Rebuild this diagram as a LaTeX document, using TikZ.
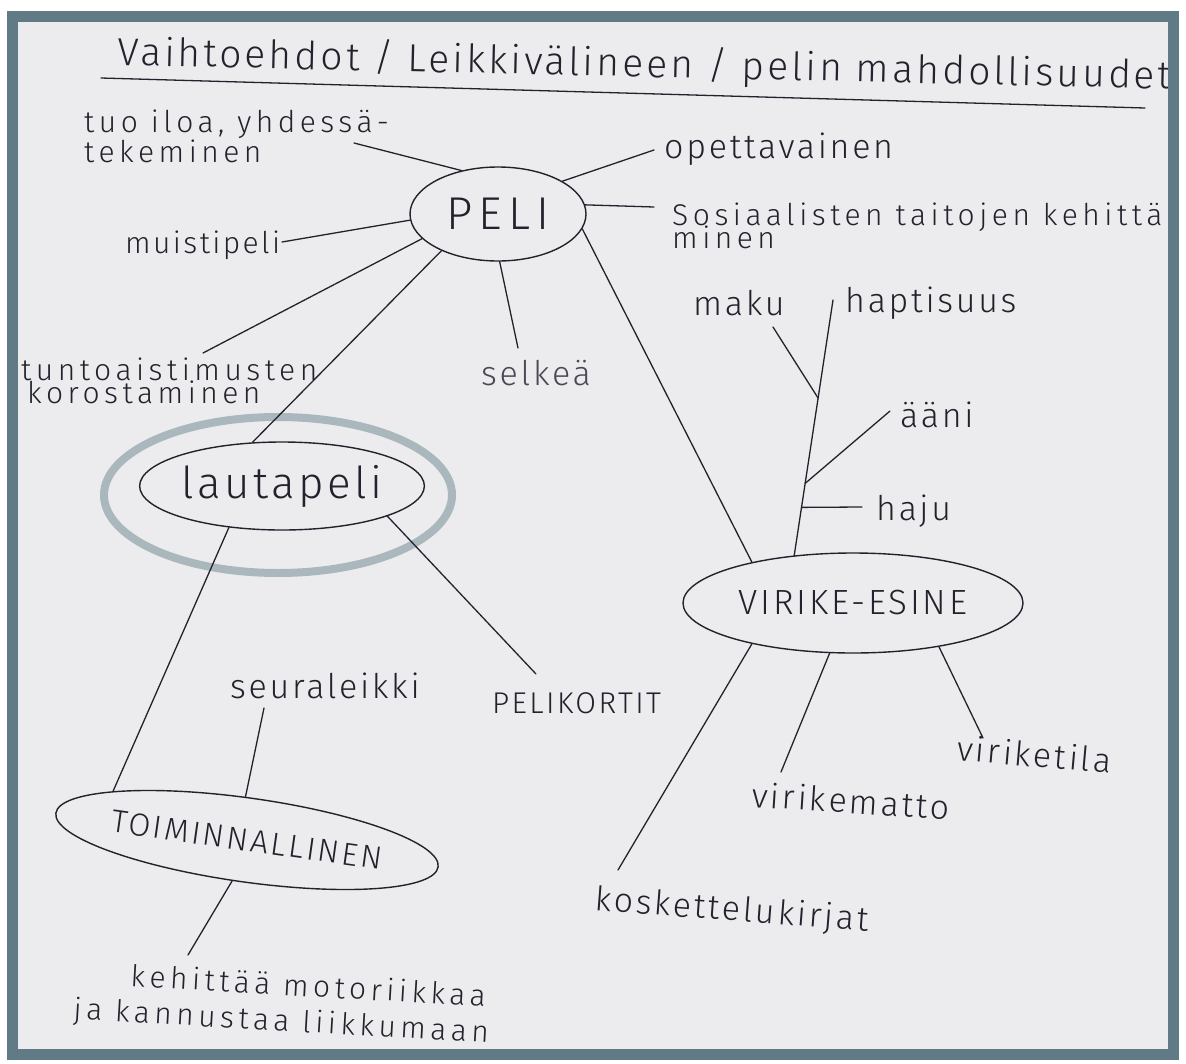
\documentclass[tikz,border=0pt]{standalone}
\usepackage{fontspec}
\newfontfamily\handfont{Fira Sans}[UprightFont=* Light, LetterSpace=8]
\usetikzlibrary{shapes.geometric,calc}
\definecolor{paper}{HTML}{ECECEF}
\definecolor{framegray}{HTML}{617B86}
\definecolor{ink}{HTML}{22222C}
\definecolor{pencil}{HTML}{4C4756}
\definecolor{highlight}{HTML}{AAB8BE}
% two handwritten lines, the node's base is the last one
\newcommand\handlines[3]{\vbox{\baselineskip=#1\lineskiplimit=-100pt\hbox{#2}\hbox{#3}}}
\tikzset{
  hand/.style={font=\handfont\fontsize{34}{34}\selectfont, text=ink, inner sep=0pt, anchor=base west},
  handtwo/.style={hand, font=\handfont\fontsize{30}{30}\selectfont\addfontfeatures{LetterSpace=15}},
  capital/.style={font=\handfont\fontsize{#1}{#1}\selectfont, text=ink, inner sep=0pt},
  oval/.style={ellipse, draw=ink, line width=1.4pt},
  link/.style={draw=ink, line width=1.3pt, line cap=round},
}
\begin{document}
\begin{tikzpicture}[x=1pt, y=-1pt]
\useasboundingbox (0,0) rectangle (1186,1063);
\fill[white] (0,0) rectangle (1186,1063);
\begin{scope}
\clip (18,22) rectangle (1168,1049);
\fill[paper] (18,22) rectangle (1168,1049);

% title
\node[hand, font=\handfont\fontsize{39}{39}\selectfont, rotate=-1.3] (title) at (117,65) {Vaihtoehdot / Leikkivälineen / pelin mahdollisuudet};
\draw[link] (101,78) -- (1145,108);

% main ovals
\draw[highlight, line width=8pt] (278,495) ellipse [x radius=174, y radius=78];
\node[oval, capital=46, minimum width=176pt, minimum height=94pt] (peli) at (498,214) {P\hspace{6pt}E\hspace{6pt}L\hspace{6pt}I};
\node[oval, capital=44, minimum width=278pt, minimum height=88pt] (laut) at (282,486) {lautapeli};
\node[oval, capital=32, rotate=-8, minimum width=340pt, minimum height=84pt] (toim) at (247,840) {TOIMINNALLINEN};
\node[oval, capital=35, minimum width=340pt, minimum height=100pt] (virik) at (853,603) {VIRIKE-ESINE};

% labels round PELI
\node[handtwo] (iloa) at (84,162) {\handlines{30pt}{tuo iloa, yhdessä-}{tekeminen}};
\node[hand] (opetus) at (664,158) {opettavainen};
\node[handtwo] (sos) at (672,248) {\handlines{23pt}{Sosiaalisten taitojen kehittä-}{minen}};
\node[hand, font=\handfont\fontsize{30}{30}\selectfont] (muisti) at (125,253) {muistipeli};
\node[handtwo] (tunto) at (21,403) {\handlines{23pt}{tuntoaistimusten}{\hspace{6pt}korostaminen}};
\node[hand, text=pencil] (selkea) at (481,385) {selkeä};

% labels round VIRIKE-ESINE
\node[hand] (maku) at (693,315) {maku};
\node[hand] (hapt) at (845,312) {haptisuus};
\node[hand] (aani) at (900,427) {ääni};
\node[hand] (haju) at (876,520) {haju};
\node[hand, rotate=-3.7] (virmat) at (751,807) {virikematto};
\node[hand, rotate=-5] (virtila) at (956,760) {viriketila};
\node[hand, rotate=-4.4] (kosk) at (594,910) {koskettelukirjat};

% labels round lautapeli
\node[hand, capital=30, anchor=base west] (pelik) at (492,713) {PELIKORTIT};
\node[hand] (seura) at (230,698) {seuraleikki};
\node[handtwo, rotate=-3.3] (keh) at (73,1019) {\handlines{36pt}{\hspace{55pt}kehittää motoriikkaa}{ja kannustaa liikkumaan}};

% free ends
\coordinate (iloaend) at (354,143);
\coordinate (opetusend) at (654,150);
\coordinate (sosend) at (654,207);
\coordinate (muistiend) at (282,242);
\coordinate (tuntoend) at (203,353);
\coordinate (selkeaend) at (518,348);
\coordinate (pelikend) at (536,674);
\coordinate (seuraend) at (264,708);
\coordinate (kehend) at (188,955);
\coordinate (koskend) at (618,870);
\coordinate (virmatend) at (781,772);
\coordinate (virtilaend) at (983,738);
\coordinate (makuend) at (773,327);
\coordinate (aaniend) at (890,411);
\coordinate (hajuend) at (862,507);
\coordinate (stemtop) at (833,300);

% connectors
\draw[link] (peli.130) -- (iloaend);
\draw[link] (peli.27) -- (opetusend);
\draw[link] (peli.6) -- (sosend);
\draw[link] (peli.184) -- (muistiend);
\draw[link] (peli.198) -- (tuntoend);
\draw[link] (peli.272) -- (selkeaend);
\draw[link] (peli.213) -- (laut.124);
\draw[link] (peli.-10) -- (virik.158);
\draw[link] (laut.218) -- (toim.168);
\draw[link] (laut.-16) -- (pelikend);
\draw[link] (toim.100) -- (seuraend);
\draw[link] (toim.258) -- (kehend);
\draw[link] (virik.202) -- (koskend);
\draw[link] (virik.245) -- (virmatend);
\draw[link] (virik.-27) -- (virtilaend);

% the stem with its senses
\draw[link] (virik.141) -- (stemtop);
\coordinate (jmaku) at ($(virik.141)!0.616!(stemtop)$);
\coordinate (jaani) at ($(virik.141)!0.282!(stemtop)$);
\coordinate (jhaju) at ($(virik.141)!0.188!(stemtop)$);
\draw[link] (makuend) -- (jmaku);
\draw[link] (jaani) -- (aaniend);
\draw[link] (jhaju) -- (hajuend);
\end{scope}
\draw[framegray, line width=11pt] (12.5,16.5) rectangle (1173.5,1054.5);
\end{tikzpicture}
\end{document}
